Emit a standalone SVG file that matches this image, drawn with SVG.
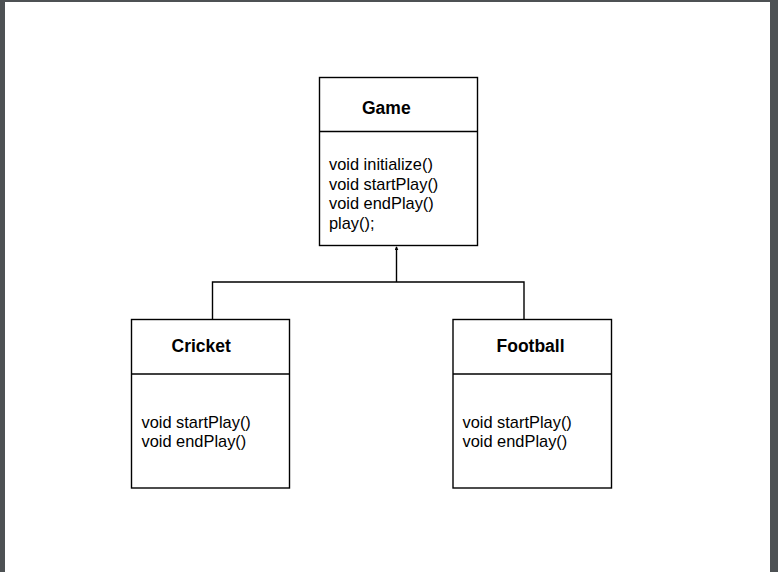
<svg xmlns="http://www.w3.org/2000/svg" width="778" height="572" viewBox="0 0 778 572">
<defs>
<style>
.box{fill:#fff;stroke:#000;stroke-width:1.4}
.div{stroke:#000;stroke-width:1.4;fill:none}
.title{font-family:"Liberation Sans",Arial,sans-serif;font-weight:bold;font-size:17.5px;fill:#000}
.m{font-family:"Liberation Sans",Arial,sans-serif;font-size:16.4px;fill:#000}
.conn{stroke:#000;stroke-width:1.4;fill:none}
</style>
<marker id="arr" viewBox="0 0 6 6" refX="5" refY="3" markerWidth="4" markerHeight="4" markerUnits="userSpaceOnUse" orient="auto">
<path d="M0,0 L6,3 L0,6 Z" fill="#000"/>
</marker>
</defs>
<rect x="0" y="0" width="778" height="572" fill="#fff"/>
<rect x="0" y="0" width="778" height="2" fill="#4d5154"/>
<rect x="0" y="0" width="5" height="572" fill="#4d5154"/>
<rect x="770" y="0" width="8" height="572" fill="#4d5154"/>
<g id="connectors">
<path class="conn" d="M212.5,319 V282 H524 V319"/>
<path class="conn" d="M396.5,282 V247" marker-end="url(#arr)"/>
</g>
<g id="game">
<rect class="box" x="319.5" y="77.5" width="158" height="168"/>
<line class="div" x1="319.5" y1="131.5" x2="477.5" y2="131.5"/>
<text class="title" x="362" y="113.5">Game</text>
<text class="m" x="329" y="170">void initialize()</text>
<text class="m" x="329" y="189.7">void startPlay()</text>
<text class="m" x="329" y="209.4">void endPlay()</text>
<text class="m" x="329" y="229">play();</text>
</g>
<g id="cricket">
<rect class="box" x="131.5" y="319.5" width="158" height="168.5"/>
<line class="div" x1="131.5" y1="374" x2="289.5" y2="374"/>
<text class="title" x="171.5" y="352">Cricket</text>
<text class="m" x="141.5" y="427.5">void startPlay()</text>
<text class="m" x="141.5" y="447.2">void endPlay()</text>
</g>
<g id="football">
<rect class="box" x="453" y="319.5" width="158.5" height="168.5"/>
<line class="div" x1="453" y1="374" x2="611.5" y2="374"/>
<text class="title" x="496.5" y="352">Football</text>
<text class="m" x="462.5" y="427.5">void startPlay()</text>
<text class="m" x="462.5" y="447.2">void endPlay()</text>
</g>
</svg>
